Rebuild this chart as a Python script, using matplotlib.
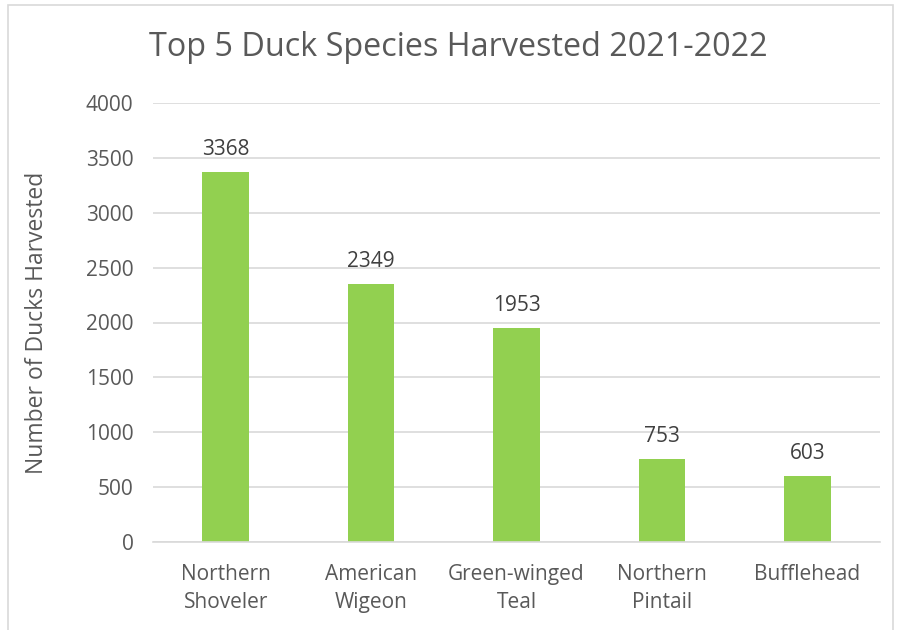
import matplotlib
matplotlib.use("Agg")
import matplotlib.pyplot as plt
from matplotlib.patches import Rectangle

categories = ["Northern\nShoveler", "American\nWigeon", "Green-winged\nTeal", "Northern\nPintail", "Bufflehead"]
values = [3368, 2349, 1953, 753, 603]
yticks = [0, 500, 1000, 1500, 2000, 2500, 3000, 3500, 4000]

plt.rcParams['font.family'] = ['Open Sans', 'DejaVu Sans']
TXT = '#595959'

W, H = 901, 630
fig = plt.figure(figsize=(W/100, H/100), dpi=100)
fig.patches.append(Rectangle((8/W, -0.1), (893-8)/W, (630-5)/H + 0.1, transform=fig.transFigure,
                             fill=False, edgecolor='#D9D9D9', linewidth=1.2))

ax = fig.add_axes([153/W, (H-542)/H, 727/W, 439/H])
x = list(range(len(categories)))
ax.bar(x, values, width=0.32, color='#92D050', zorder=3)
for xi, v in zip(x, values):
    ax.text(xi, v + 110, str(v), ha='center', va='bottom', fontsize=15, color='#404040')

ax.set_xlim(-0.5, len(categories) - 0.5)
ax.set_ylim(0, 4000)
ax.set_yticks(yticks)
ax.set_yticklabels([str(t) for t in yticks], fontsize=15, color=TXT)
ax.set_xticks(x)
ax.set_xticklabels(categories, fontsize=15, color=TXT, linespacing=1.4)
ax.tick_params(axis='both', length=0)
ax.tick_params(axis='y', pad=14)
ax.tick_params(axis='x', pad=16)
ax.grid(axis='y', color='#D9D9D9', linewidth=1.2, zorder=0)
for s in ['top', 'right', 'left']:
    ax.spines[s].set_visible(False)
ax.spines['bottom'].set_color('#D9D9D9')
ax.spines['bottom'].set_linewidth(1.2)
ax.spines['bottom'].set_zorder(4)

ax.set_ylabel("Number of Ducks Harvested", fontsize=16.5, color=TXT)
ax.yaxis.set_label_coords((49 - 153) / 727, 0.5)

fig.text(458/W, 1 - 47/H, "Top 5 Duck Species Harvested 2021-2022", ha='center', va='center',
         fontsize=23.3, color=TXT)

fig.savefig("out.png", dpi=100)
